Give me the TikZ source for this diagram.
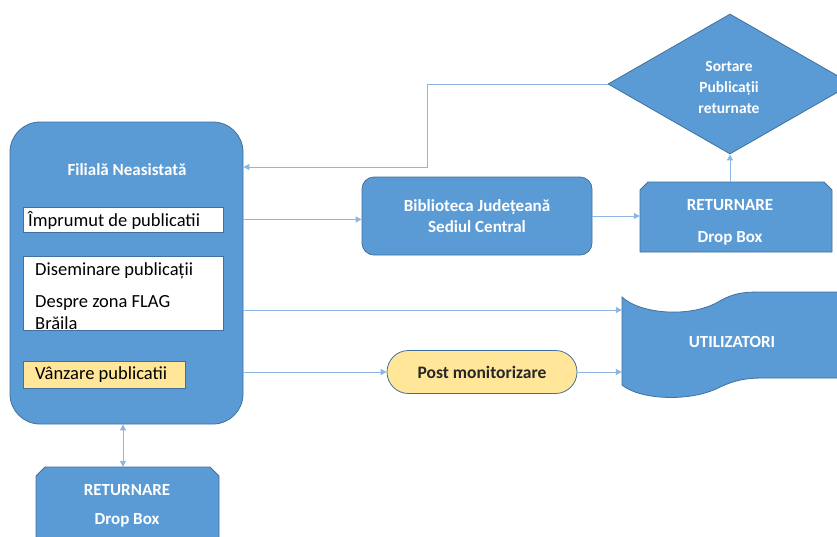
\documentclass[tikz,border=0pt]{standalone}
\usepackage{fontspec}
\setmainfont{Carlito}
\usetikzlibrary{shapes.geometric,shapes.misc,arrows.meta}
\definecolor{boxblue}{HTML}{5B9BD5}
\definecolor{edgeblue}{HTML}{41719C}
\definecolor{linkblue}{HTML}{8DB6E2}
\definecolor{softyellow}{HTML}{FFE699}
\tikzset{
  bluebox/.style={fill=boxblue, draw=edgeblue, line width=0.8pt, text=white},
  whitebox/.style={fill=white, draw=edgeblue, line width=0.8pt, inner sep=0pt},
  bodytext/.style={font=\fontsize{18.5}{21}\selectfont, text=black, inner sep=0pt},
  wtext/.style={font=\bfseries\fontsize{17}{20}\selectfont, text=white, inner sep=0pt},
  conn/.style={draw=linkblue, line width=1pt, -{Triangle[length=6pt,width=6pt]}, color=linkblue}
}
\begin{document}
\begin{tikzpicture}[x=1pt,y=-1pt]
\clip (0,0) rectangle (837,536);
\fill[white] (0,0) rectangle (837,536);

% main branch box
\node[bluebox, rounded corners=30pt, minimum width=233pt, minimum height=302pt, inner sep=0pt] (fil) at (126.5,273) {};
\node[wtext] (filt) at (127,170) {Filială Neasistată};
\node[whitebox, minimum width=200pt, minimum height=25pt] (imp) at (123,219.5) {};
\node[bodytext, anchor=west] (impt) at (28,220) {Împrumut de publicatii};
\node[whitebox, minimum width=200pt, minimum height=74pt] (dis) at (123,293) {};
\node[bodytext, anchor=west] (dis1) at (35,271) {Diseminare publicații};
\node[bodytext, anchor=west] (dis2) at (35,303) {Despre zona FLAG};
\node[bodytext, anchor=west] (dis3) at (35,323) {Brăila};
\node[fill=softyellow, draw=edgeblue, line width=0.8pt, minimum width=162pt, minimum height=27pt, inner sep=0pt] (van) at (104,374.5) {};
\node[bodytext, anchor=west] (vant) at (35,375) {Vânzare publicatii};

% central library
\node[bluebox, rounded corners=12pt, minimum width=230pt, minimum height=78pt, inner sep=0pt, align=center, font=\bfseries\fontsize{17}{21}\selectfont] (bib) at (477,216) {Biblioteca Județeană\\Sediul Central};

% return drop box (top right)
\path[bluebox] (640,252) -- (640,190) -- (648,182) -- (824,182) -- (832,190) -- (832,252) -- cycle;
\node[minimum width=192pt, minimum height=70pt, inner sep=0pt] (ret1) at (736,217) {};
\node[wtext] (ret1a) at (730,205) {RETURNARE};
\node[wtext] (ret1b) at (730,238) {Drop Box};

% diamond
\node[bluebox, diamond, aspect=1.74, minimum width=244pt, minimum height=140pt, inner sep=0pt] (dia) at (730,84) {};
\node[wtext, align=center, font=\bfseries\fontsize{15.5}{21}\selectfont] (diat) at (729,87) {Sortare\\Publicații\\returnate};

% users (punched tape)
\path[bluebox] (622,297) .. controls (640,314) and (690,318) .. (718,302)
  .. controls (735,292) and (745,292) .. (765,292) -- (860,292) -- (860,378)
  -- (765,378) .. controls (745,378) and (735,380) .. (718,388)
  .. controls (690,402) and (640,400) .. (622,385) -- cycle;
\node[minimum width=215pt, minimum height=90pt, inner sep=0pt] (utl) at (729.5,341) {};
\node[wtext] (utlt) at (732,342) {UTILIZATORI};

% post monitoring
\node[fill=softyellow, draw=edgeblue, line width=0.8pt, rounded rectangle, minimum width=190pt, minimum height=43pt, inner sep=0pt, font=\bfseries\fontsize{17.5}{20}\selectfont, text={black!85}] (post) at (482,372) {Post monitorizare};

% bottom drop box
\path[bluebox] (36,560) -- (36,476) -- (45,467) -- (210,467) -- (219,476) -- (219,560) -- cycle;
\node[minimum width=183pt, minimum height=93pt, inner sep=0pt] (ret2) at (127.5,513.5) {};
\node[wtext] (ret2a) at (127,490) {RETURNARE};
\node[wtext] (ret2b) at (127,520) {Drop Box};

% connectors
\coordinate (bend) at (427,167);
\draw[conn] (dia.west) -| (bend) -- (bend -| fil.east);
\draw[conn] (imp.east -| fil.east) -- (imp.east -| bib.west);
\draw[conn] (bib.east) -- (bib.east -| ret1.west);
\draw[conn] (dia.south |- ret1.north) -- (dia.south);
\coordinate (u1) at (243,310);
\draw[conn] (u1) -- (u1 -| utl.west);
\draw[conn] (post.west -| fil.east) -- (post.west);
\draw[conn] (post.east) -- (post.east -| utl.west);
\draw[draw=linkblue, line width=1pt, {Triangle[length=6pt,width=6pt]}-{Triangle[length=6pt,width=6pt]}, color=linkblue] (fil.south -| 123,0) -- (ret2.north -| 123,0);
\end{tikzpicture}
\end{document}
